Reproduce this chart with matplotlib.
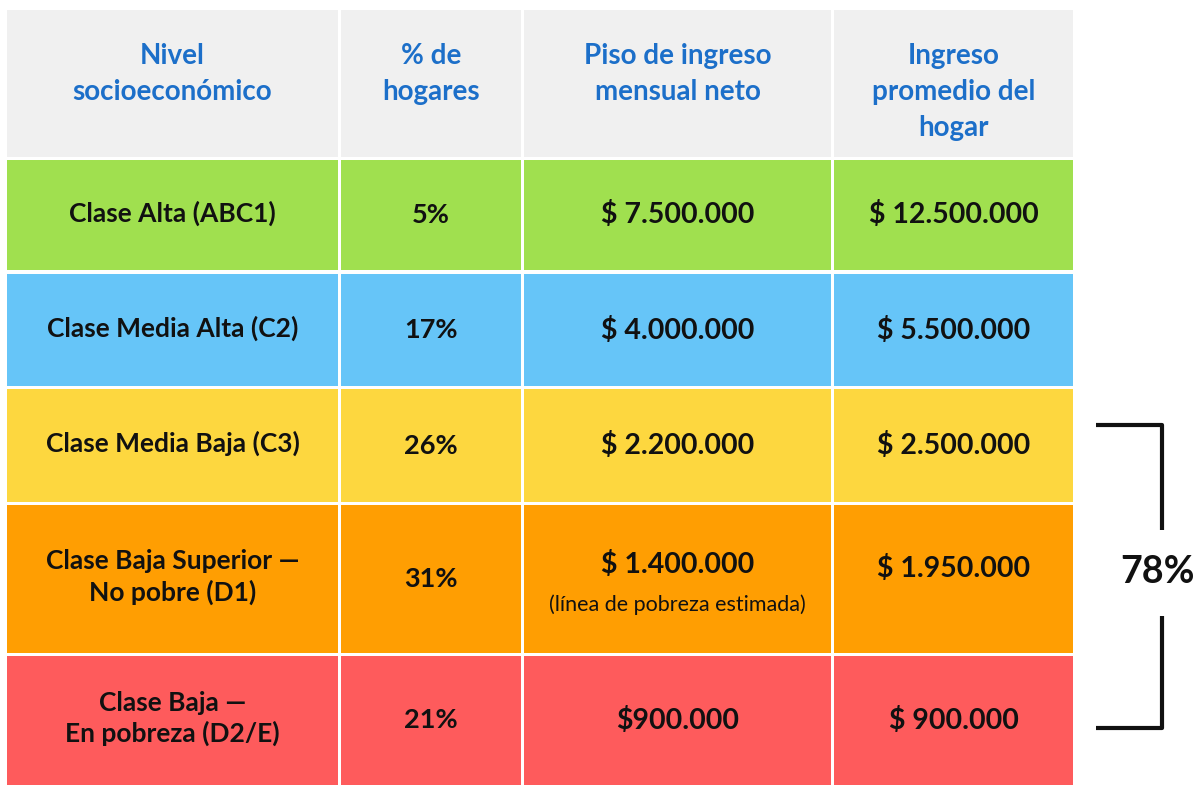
import matplotlib.pyplot as plt
from matplotlib.patches import Rectangle

# data
encabezados = ["Nivel\nsocioeconómico", "% de\nhogares", "Piso de ingreso\nmensual neto", "Ingreso\npromedio del\nhogar"]
niveles = ["Clase Alta (ABC1)", "Clase Media Alta (C2)", "Clase Media Baja (C3)",
           "Clase Baja Superior —\nNo pobre (D1)", "Clase Baja —\nEn pobreza (D2/E)"]
pct_hogares = ["5%", "17%", "26%", "31%", "21%"]
piso = ["$ 7.500.000", "$ 4.000.000", "$ 2.200.000", "$ 1.400.000", "$900.000"]
promedio = ["$ 12.500.000", "$ 5.500.000", "$ 2.500.000", "$ 1.950.000", "$ 900.000"]
nota_piso = {3: "(línea de pobreza estimada)"}
total_bracket = "78%"

# layout (pixels)
col_x = [(7, 338), (341, 521), (524, 831), (834, 1073)]
head_y = (10, 157)
row_y = [(160, 270), (274, 386), (389, 502), (505, 653), (656, 785)]
colores = ["#A0E04F", "#66C5F8", "#FDD73F", "#FF9E02", "#FE5B5C"]
head_color = "#F0F0F0"
azul = "#1C6FC9"
negro = "#111111"

plt.rcParams['font.family'] = ['Lato', 'DejaVu Sans']

fig = plt.figure(figsize=(12, 8), dpi=100)
ax = fig.add_axes([0, 0, 1, 1])
ax.set_xlim(0, 1200)
ax.set_ylim(800, 0)
ax.axis('off')

# header
for j, (x0, x1) in enumerate(col_x):
    ax.add_patch(Rectangle((x0, head_y[0]), x1 - x0, head_y[1] - head_y[0], color=head_color, lw=0))
    ax.text((x0 + x1) / 2, 43, encabezados[j], ha='center', va='top', fontsize=20,
            fontweight='bold', color=azul, linespacing=1.47)

# rows
cx = [(a + b) / 2 for a, b in col_x]
for i, (y0, y1) in enumerate(row_y):
    for (x0, x1) in col_x:
        ax.add_patch(Rectangle((x0, y0), x1 - x0, y1 - y0, color=colores[i], lw=0))
    yc = (y0 + y1) / 2
    ax.text(cx[0], yc - 2, niveles[i], ha='center', va='center', fontsize=19,
            fontweight='bold', color=negro, linespacing=1.3)
    ax.text(cx[1], yc, pct_hogares[i], ha='center', va='center', fontsize=19.5,
            fontweight='bold', color=negro)
    if i in nota_piso:
        ax.text(cx[2], yc - 14, piso[i], ha='center', va='center', fontsize=20.5,
                fontweight='bold', color=negro)
        ax.text(cx[2], yc + 26, nota_piso[i], ha='center', va='center', fontsize=15.5,
                color=negro)
    else:
        ax.text(cx[2], yc, piso[i], ha='center', va='center', fontsize=20.5,
                fontweight='bold', color=negro)
    ax.text(cx[3], yc - (11 if i in nota_piso else 0), promedio[i], ha='center', va='center',
            fontsize=20.5, fontweight='bold', color=negro)

# bracket 78%
ax.plot([1096, 1162, 1162], [425, 425, 530], color=negro, lw=3, solid_capstyle='butt')
ax.plot([1162, 1162, 1096], [616, 728, 728], color=negro, lw=3, solid_capstyle='butt')
ax.text(1158, 572, total_bracket, ha='center', va='center', fontsize=27,
        fontweight='bold', color=negro)

fig.savefig("out.png", dpi=100, facecolor='white')
